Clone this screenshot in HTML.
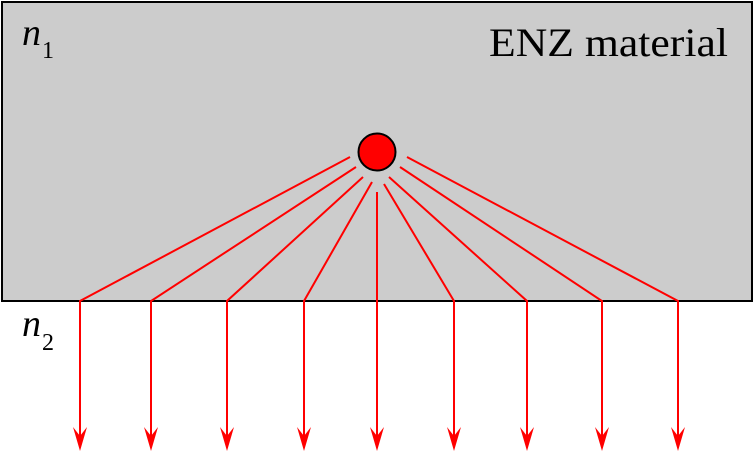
<!DOCTYPE html>
<html><head><meta charset="utf-8"><style>html,body{margin:0;padding:0;background:#fff}svg{display:block}</style></head>
<body>
<svg width="754" height="452" viewBox="0 0 754 452" xmlns="http://www.w3.org/2000/svg">
<rect x="2" y="2" width="750" height="299" fill="#cccccc" stroke="#000" stroke-width="2"/>
<g font-family="'Liberation Serif', serif" fill="#000">
<text x="22" y="45" font-size="38" font-style="italic">n</text>
<text x="42" y="58" font-size="24">1</text>
<text x="22" y="336" font-size="38" font-style="italic">n</text>
<text x="42" y="350" font-size="24">2</text>
<text x="489" y="56" font-size="40" textLength="239" lengthAdjust="spacingAndGlyphs">ENZ material</text>
</g>
<g stroke="#ff0000" stroke-width="2" fill="none">
<polyline points="350,157 80,301 80,438"/>
<polyline points="356,167 151,301 151,438"/>
<polyline points="363,177 227,301 227,438"/>
<polyline points="372,182 304,301 304,438"/>
<polyline points="377,192 377,438"/>
<polyline points="384,184 454,301 454,438"/>
<polyline points="389,177 527,301 527,438"/>
<polyline points="400,167 602,301 602,438"/>
<polyline points="407,157 678,301 678,438"/>
</g>
<g fill="#ff0000">
<path d="M73,427 L80,436 L87,427 L80,451 Z"/>
<path d="M144,427 L151,436 L158,427 L151,451 Z"/>
<path d="M220,427 L227,436 L234,427 L227,451 Z"/>
<path d="M297,427 L304,436 L311,427 L304,451 Z"/>
<path d="M370,427 L377,436 L384,427 L377,451 Z"/>
<path d="M447,427 L454,436 L461,427 L454,451 Z"/>
<path d="M520,427 L527,436 L534,427 L527,451 Z"/>
<path d="M595,427 L602,436 L609,427 L602,451 Z"/>
<path d="M671,427 L678,436 L685,427 L678,451 Z"/>
</g>
<circle cx="377" cy="152" r="18.5" fill="#ff0000" stroke="#000" stroke-width="2"/>
</svg>
</body></html>
